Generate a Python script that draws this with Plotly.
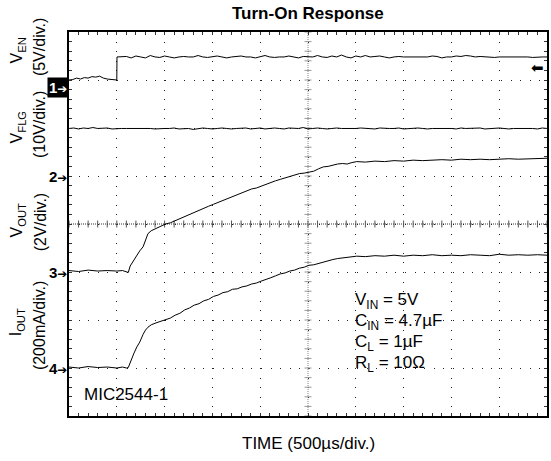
import plotly.graph_objects as go

# ---------------- data read from the scope capture ----------------
# time in microseconds (500 us/div)
t_en = [0, 40, 80, 120, 160, 200, 240, 280, 320, 360, 400, 440, 480, 500, 502,
        550, 600, 650, 700, 750, 800, 850, 900, 950, 1000,
        1050, 1100, 1150, 1200, 1250, 1300, 1350, 1400, 1450, 1500,
        1550, 1600, 1650, 1700, 1750, 1800, 1850, 1900, 1950, 2000,
        2050, 2100, 2150, 2200, 2250, 2300, 2350, 2400, 2450, 2500,
        2550, 2600, 2650, 2700, 2750, 2800, 2850, 2900, 2950, 3000,
        3050, 3100, 3150, 3200, 3250, 3300, 3350, 3400, 3450, 3500,
        3550, 3600, 3650, 3700, 3750, 3800, 3850, 3900, 3950, 4000,
        4050, 4100, 4150, 4200, 4250, 4300, 4350, 4400, 4450, 4500,
        4550, 4600, 4650, 4700, 4750, 4800, 4850, 4900, 4950, 5000]
v_en = [0.8, 0.85, 1.0, 0.9, 1.05, 1.0, 1.15, 1.1, 1.2, 1.0, 0.9, 0.85, 0.8, 0.8, 3.2,
        3.2, 3.25, 3.1, 3.3, 3.2, 3.1, 3.35, 3.2, 3.15, 3.3,
        3.2, 3.1, 3.2, 3.25, 3.2, 3.2, 3.35, 3.2, 3.15, 3.2,
        3.3, 3.2, 3.1, 3.2, 3.25, 3.3, 3.2, 3.2, 3.1, 3.2,
        3.35, 3.2, 3.15, 3.2, 3.2, 3.3, 3.2, 3.1, 3.25, 3.2,
        3.2, 3.35, 3.2, 3.15, 3.3, 3.2, 3.4, 3.2, 3.1, 3.3,
        3.2, 3.35, 3.2, 3.25, 3.3, 3.2, 3.1, 3.2, 3.25, 3.2,
        3.2, 3.15, 3.2, 3.2, 3.2, 3.3, 3.25, 3.1, 3.2, 3.2,
        3.3, 3.25, 3.35, 3.3, 3.2, 3.25, 3.2, 3.2, 3.15, 3.2,
        3.2, 3.2, 3.2, 3.25, 3.2, 3.2, 3.15, 3.2, 3.2, 3.2]

t_flg = [0, 50, 100, 150, 200, 250, 300, 350, 400, 450,
         500, 550, 600, 650, 700, 750, 800, 850, 900, 950,
         1000, 1050, 1100, 1150, 1200, 1250, 1300, 1350, 1400, 1450,
         1500, 1550, 1600, 1650, 1700, 1750, 1800, 1850, 1900, 1950,
         2000, 2050, 2100, 2150, 2200, 2250, 2300, 2350, 2400, 2450,
         2500, 2550, 2600, 2650, 2700, 2750, 2800, 2850, 2900, 2950,
         3000, 3050, 3100, 3150, 3200, 3250, 3300, 3350, 3400, 3450,
         3500, 3550, 3600, 3650, 3700, 3750, 3800, 3850, 3900, 3950,
         4000, 4050, 4100, 4150, 4200, 4250, 4300, 4350, 4400, 4450,
         4500, 4550, 4600, 4650, 4700, 4750, 4800, 4850, 4900, 4950,
         5000]
v_flg = [9.9, 10.0, 9.8, 10.0, 9.9, 10.1, 9.9, 9.9, 10.0, 9.8,
         9.9, 9.9, 9.9, 9.9, 10.0, 9.9, 9.9, 9.9, 9.8, 9.9,
         9.9, 9.9, 10.0, 9.8, 9.9, 9.9, 9.7, 9.9, 10.0, 9.9,
         9.8, 9.9, 10.0, 9.9, 9.8, 9.9, 9.9, 10.0, 9.8, 9.9,
         10.0, 9.8, 9.9, 10.0, 9.9, 9.8, 10.0, 9.9, 9.9, 10.1,
         9.8, 9.9, 10.0, 9.9, 9.8, 9.9, 10.0, 9.9, 9.9, 9.8,
         9.9, 10.0, 9.9, 9.9, 9.8, 10.0, 9.9, 9.9, 9.9, 10.0,
         9.8, 9.9, 9.9, 10.0, 9.9, 9.8, 9.9, 9.9, 10.0, 9.9,
         9.9, 9.8, 10.0, 9.9, 9.9, 9.9, 10.0, 9.8, 9.9, 9.9,
         10.0, 9.9, 9.8, 9.9, 9.9, 10.0, 9.9, 9.9, 9.8, 10.0,
         9.9]

t_out = [0, 100, 200, 300, 400, 500, 560, 600, 620, 640,
         680, 710, 740, 775, 800, 826, 860, 910, 960, 1010,
         1060, 1110, 1160, 1210, 1260, 1310, 1360, 1410, 1460, 1510,
         1560, 1610, 1660, 1710, 1760, 1810, 1860, 1910, 1960, 2010,
         2060, 2110, 2160, 2210, 2260, 2310, 2360, 2410, 2460, 2510,
         2560, 2610, 2660, 2710, 2760, 2810, 2860, 2910, 2960, 3010,
         3100, 3200, 3300, 3400, 3500, 3600, 3700, 3800, 3900, 4000,
         4100, 4200, 4300, 4400, 4500, 4600, 4700, 4800, 4900, 5000]
v_out = [0.06, 0.02, 0.08, 0.04, 0.06, 0.04, 0.06, 0.02, -0.02, 0.25,
         0.5, 0.72, 0.88, 1.05, 1.35, 1.6, 1.72, 1.82, 1.9, 2.0,
         2.05, 2.14, 2.2, 2.3, 2.4, 2.48, 2.56, 2.66, 2.74, 2.82,
         2.9, 3.0, 3.06, 3.16, 3.24, 3.3, 3.38, 3.46, 3.5, 3.58,
         3.66, 3.72, 3.8, 3.86, 3.92, 3.98, 4.06, 4.1, 4.12, 4.16,
         4.2, 4.3, 4.38, 4.4, 4.46, 4.5, 4.52, 4.5, 4.56, 4.6,
         4.58, 4.62, 4.6, 4.64, 4.62, 4.66, 4.64, 4.66, 4.68, 4.66,
         4.7, 4.68, 4.7, 4.68, 4.7, 4.72, 4.7, 4.72, 4.72, 4.74]
i_out = [4, 0, 6, 2, 4, 0, 4, 0, 2, 25,
         62, 88, 108, 140, 158, 170, 180, 188, 194, 202,
         208, 220, 228, 242, 250, 262, 268, 280, 286, 298,
         304, 314, 318, 328, 330, 338, 342, 350, 354, 362,
         368, 376, 384, 392, 396, 404, 408, 416, 420, 428,
         430, 436, 440, 446, 452, 456, 458, 462, 462, 466,
         464, 468, 466, 470, 466, 470, 468, 472, 468, 470,
         468, 472, 470, 468, 474, 470, 472, 470, 472, 470]

conditions = ["V<sub>IN</sub> = 5V", "C<sub>IN</sub> = 4.7µF",
              "C<sub>L</sub> = 1µF", "R<sub>L</sub> = 10Ω"]

# channel settings: (ground marker position in divisions, units per division)
CH_EN = (6.84, 5.0)
CH_FLG = (5.0, 10.0)
CH_OUT = (3.0, 2.0)
CH_IOUT = (1.0, 200.0)
TRIG_DIV = 7.25

def to_div(vals, ch):
    off, per = ch
    return [off + v / per for v in vals]

FONT = "Liberation Sans, Arial, Helvetica, sans-serif"

fig = go.Figure()

# center graticule lines (dense dotted) with small cross ticks
fig.add_shape(type="line", xref="x", yref="y", x0=2500, x1=2500, y0=0, y1=8,
              line=dict(color="#888", width=1, dash="1px,1px"), layer="below")
fig.add_shape(type="line", xref="x", yref="y", x0=0, x1=5000, y0=4, y1=4,
              line=dict(color="#333", width=1, dash="1px,1px"), layer="below")
hx = [k * 100 for k in range(51)]
vy = [k * 0.2 for k in range(41)]
fig.add_trace(go.Scatter(x=hx, y=[4] * len(hx), mode="markers",
                         marker=dict(symbol="line-ns", size=5, line=dict(color="#555", width=1)),
                         hoverinfo="skip", showlegend=False))
fig.add_trace(go.Scatter(x=[2500] * len(vy), y=vy, mode="markers",
                         marker=dict(symbol="line-ew", size=5, line=dict(color="#999", width=1)),
                         hoverinfo="skip", showlegend=False))

for t, v, ch in [(t_en, v_en, CH_EN), (t_flg, v_flg, CH_FLG),
                 (t_out, v_out, CH_OUT), (t_out, i_out, CH_IOUT)]:
    fig.add_trace(go.Scatter(x=t, y=to_div(v, ch), mode="lines",
                             line=dict(color="black", width=1),
                             hoverinfo="skip", showlegend=False))

axis_common = dict(showgrid=True, gridcolor="#222", gridwidth=1, griddash="1px,8.6px",
                   zeroline=False, showticklabels=False, showline=True, linecolor="black",
                   linewidth=1.5, mirror="allticks", ticks="inside", ticklen=3,
                   tickcolor="#333", tickwidth=1)
fig.update_xaxes(range=[0, 5000], dtick=500, tick0=0,
                 minor=dict(dtick=100, ticks="inside", ticklen=3, tickcolor="#333", showgrid=False),
                 **axis_common)
fig.update_yaxes(range=[0, 8], dtick=1, tick0=0,
                 minor=dict(dtick=0.2, ticks="inside", ticklen=3, tickcolor="#333", showgrid=False),
                 **axis_common)

ann = []
def A(text, x, y, size=16, xanchor="center", yanchor="middle", **kw):
    d = dict(text=text, x=x, y=y, xref="paper", yref="paper", showarrow=False,
             xanchor=xanchor, yanchor=yanchor,
             font=dict(family=FONT, size=size, color="black"))
    d.update(kw)
    ann.append(d)

A("<b>Turn-On Response</b>", 0.5, 1.047, size=17)
A("TIME (500µs/div.)", 0.5, -0.072, size=17)
A("MIC2544-1", 0.027, 0.057, size=17, xanchor="left")
for k, line in enumerate(conditions):
    A(line, 0.594, 0.2995 - k * 0.0547, size=17, xanchor="left")

# rotated channel labels
A("V<sub>EN</sub>", -0.108, 0.953, textangle=-90)
A("(5V/div.)", -0.0604, 0.961, textangle=-90)
A("V<sub>FLG</sub>", -0.108, 0.7526, textangle=-90)
A("(10V/div.)", -0.0604, 0.758, textangle=-90)
A("V<sub>OUT</sub>", -0.108, 0.5104, textangle=-90)
A("(2V/div.)", -0.0604, 0.505, textangle=-90)
A("I<sub>OUT</sub>", -0.108, 0.245, textangle=-90)
A("(200mA/div.)", -0.0604, 0.237, textangle=-90)

# channel ground markers
ARROW = "<span style='font-family:DejaVu Sans;font-size:12px'>➔</span>"
for label, ch in [("1", CH_EN), ("2", CH_FLG), ("3", CH_OUT), ("4", CH_IOUT)]:
    d = dict(text="<b>" + label + "</b>" + ARROW, x=0, y=ch[0], xref="paper", yref="y",
             showarrow=False, xanchor="right", yanchor="middle",
             font=dict(family=FONT, size=15, color="white" if label == "1" else "black"))
    if label == "1":
        d.update(bgcolor="black", borderpad=1)
    ann.append(d)

# trigger level arrow on right edge
ann.append(dict(text="⬅", x=0.998, y=TRIG_DIV, xref="paper", yref="y", showarrow=False,
                xanchor="right", yanchor="middle",
                font=dict(family="DejaVu Sans", size=15, color="black")))

fig.update_layout(width=551, height=461, margin=dict(l=69, r=2, t=32, b=45),
                  plot_bgcolor="white", paper_bgcolor="white",
                  annotations=ann, showlegend=False)

fig.write_html("out.html", config={"displayModeBar": False},
               post_script="document.body.style.margin='0';")
